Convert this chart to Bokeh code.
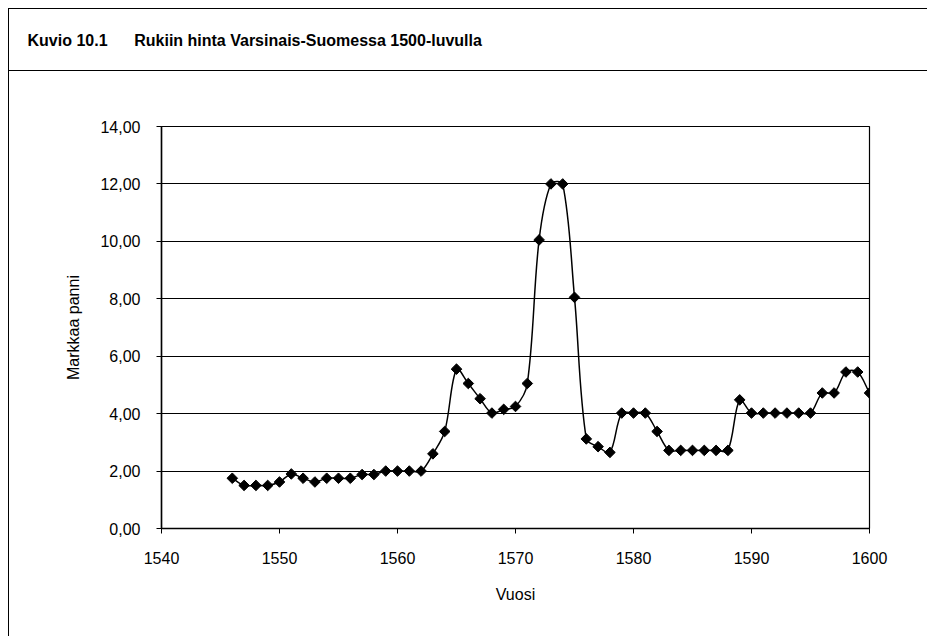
import math
from bokeh.plotting import figure
from bokeh.models import Range1d, FixedTicker, ColumnDataSource, Title
from bokeh.layouts import column
from bokeh.embed import file_html
from bokeh.resources import INLINE

# ---- data ----
years = list(range(1546, 1601))
prices = [1.75, 1.50, 1.50, 1.50, 1.62, 1.90, 1.75, 1.62, 1.75, 1.75, 1.75,
          1.88, 1.88, 2.00, 2.00, 2.00, 2.00,
          2.60, 3.38, 5.55, 5.05, 4.52, 4.02, 4.15, 4.25, 5.05,
          10.05, 12.00, 12.00, 8.05,
          3.12, 2.85, 2.65, 4.02, 4.02, 4.02, 3.38,
          2.72, 2.72, 2.72, 2.72, 2.72, 2.72,
          4.48,
          4.02, 4.02, 4.02, 4.02, 4.02, 4.02,
          4.72, 4.72, 5.45, 5.45, 4.72]
x_ticks = [1540, 1550, 1560, 1570, 1580, 1590, 1600]
y_ticks = [0, 2, 4, 6, 8, 10, 12, 14]
y_tick_labels = ["0,00", "2,00", "4,00", "6,00", "8,00", "10,00", "12,00", "14,00"]
fig_label = "Kuvio 10.1"
fig_title = "Rukiin hinta Varsinais-Suomessa 1500-luvulla"
x_title = "Vuosi"
y_title = "Markkaa panni"

FONT = "Liberation Sans"
W = 918
H = 565
FL, FW, FT, FH = 152, 707, 55, 402
X0, X1, Y0, Y1 = 1540, 1600, 0, 14

# ---- smoothed line: bezier segments with distance-weighted tangents (Excel-like) ----
sx = FW / (X1 - X0)
sy = FH / (Y1 - Y0)
n = len(years)
pts = list(zip(years, prices))

def dist(a, b):
    return math.hypot((b[0] - a[0]) * sx, (b[1] - a[1]) * sy)

seg = dict(x0=[], y0=[], x1=[], y1=[], cx0=[], cy0=[], cx1=[], cy1=[])
for i in range(n - 1):
    p0 = pts[i - 1] if i > 0 else pts[i]
    p1, p2 = pts[i], pts[i + 1]
    p3 = pts[i + 2] if i + 2 < n else pts[i + 1]
    d01, d12, d23 = dist(p0, p1), dist(p1, p2), dist(p2, p3)
    f1 = d12 / (3 * (d01 + d12)) if d01 + d12 > 0 else 0
    f2 = d12 / (3 * (d12 + d23)) if d12 + d23 > 0 else 0
    seg["x0"].append(p1[0]); seg["y0"].append(p1[1])
    seg["x1"].append(p2[0]); seg["y1"].append(p2[1])
    seg["cx0"].append(p1[0] + (p2[0] - p0[0]) * f1)
    seg["cy0"].append(p1[1] + (p2[1] - p0[1]) * f1)
    seg["cx1"].append(p2[0] - (p3[0] - p1[0]) * f2)
    seg["cy1"].append(p2[1] - (p3[1] - p1[1]) * f2)

# ---- title band (its frame is aligned with the chart's frame) ----
tf = figure(width=W, height=61, x_range=Range1d(0, 1), y_range=Range1d(0, 1),
            output_backend="svg", toolbar_location=None,
            min_border_left=FL, min_border_right=W - FL - FW, min_border_top=39,
            min_border_bottom=0, frame_width=FW, frame_height=22,
            styles={"border-top": "1px solid black", "border-left": "1px solid black",
                    "border-bottom": "1px solid black"})
tf.axis.visible = False
tf.grid.visible = False
tf.outline_line_color = None
tf.add_layout(Title(text=fig_label + "\u00a0" * 6 + fig_title, align="left", offset=-134,
                    standoff=0, text_font=FONT, text_font_style="bold",
                    text_font_size="16px", text_color="black"), "above")

# ---- main chart ----
p = figure(width=W, height=H, x_range=Range1d(X0, X1), y_range=Range1d(Y0, Y1),
           output_backend="svg", toolbar_location=None,
           min_border_left=FL, min_border_top=FT, min_border_right=W - FL - FW,
           min_border_bottom=H - FT - FH, frame_width=FW, frame_height=FH,
           styles={"border-left": "1px solid black"})
p.outline_line_color = "black"
p.outline_line_width = 1.2
p.xgrid.visible = False
p.ygrid.ticker = FixedTicker(ticks=y_ticks)
p.ygrid.grid_line_color = "black"
p.ygrid.grid_line_width = 1

p.xaxis.ticker = FixedTicker(ticks=x_ticks)
p.yaxis.ticker = FixedTicker(ticks=y_ticks)
p.yaxis.major_label_overrides = {t: s for t, s in zip(y_ticks, y_tick_labels)}
for ax in (p.xaxis, p.yaxis):
    ax.axis_line_color = "black"
    ax.axis_line_width = 1.5
    ax.major_tick_line_color = "black"
    ax.major_tick_in = 0
    ax.major_tick_out = 5
    ax.minor_tick_line_color = None
    ax.major_label_text_font = FONT
    ax.major_label_text_font_size = "16px"
    ax.major_label_text_color = "black"
    ax.axis_label_text_font = FONT
    ax.axis_label_text_font_size = "16px"
    ax.axis_label_text_font_style = "normal"
    ax.axis_label_text_color = "black"
p.xaxis.axis_label = x_title
p.yaxis.axis_label = y_title
p.xaxis.major_label_standoff = 18
p.yaxis.major_label_standoff = 16
p.xaxis.axis_label_standoff = 19
p.yaxis.axis_label_standoff = 15

p.bezier(x0="x0", y0="y0", x1="x1", y1="y1", cx0="cx0", cy0="cy0", cx1="cx1", cy1="cy1",
         source=ColumnDataSource(seg), line_color="black", line_width=1.5)
p.scatter(years, prices, marker="square", angle=math.pi / 4, size=7.5,
          fill_color="black", line_color="black")

layout = column(tf, p, spacing=0, margin=(8, 0, 0, 8))
open("out.html", "w").write(file_html(layout, INLINE))
